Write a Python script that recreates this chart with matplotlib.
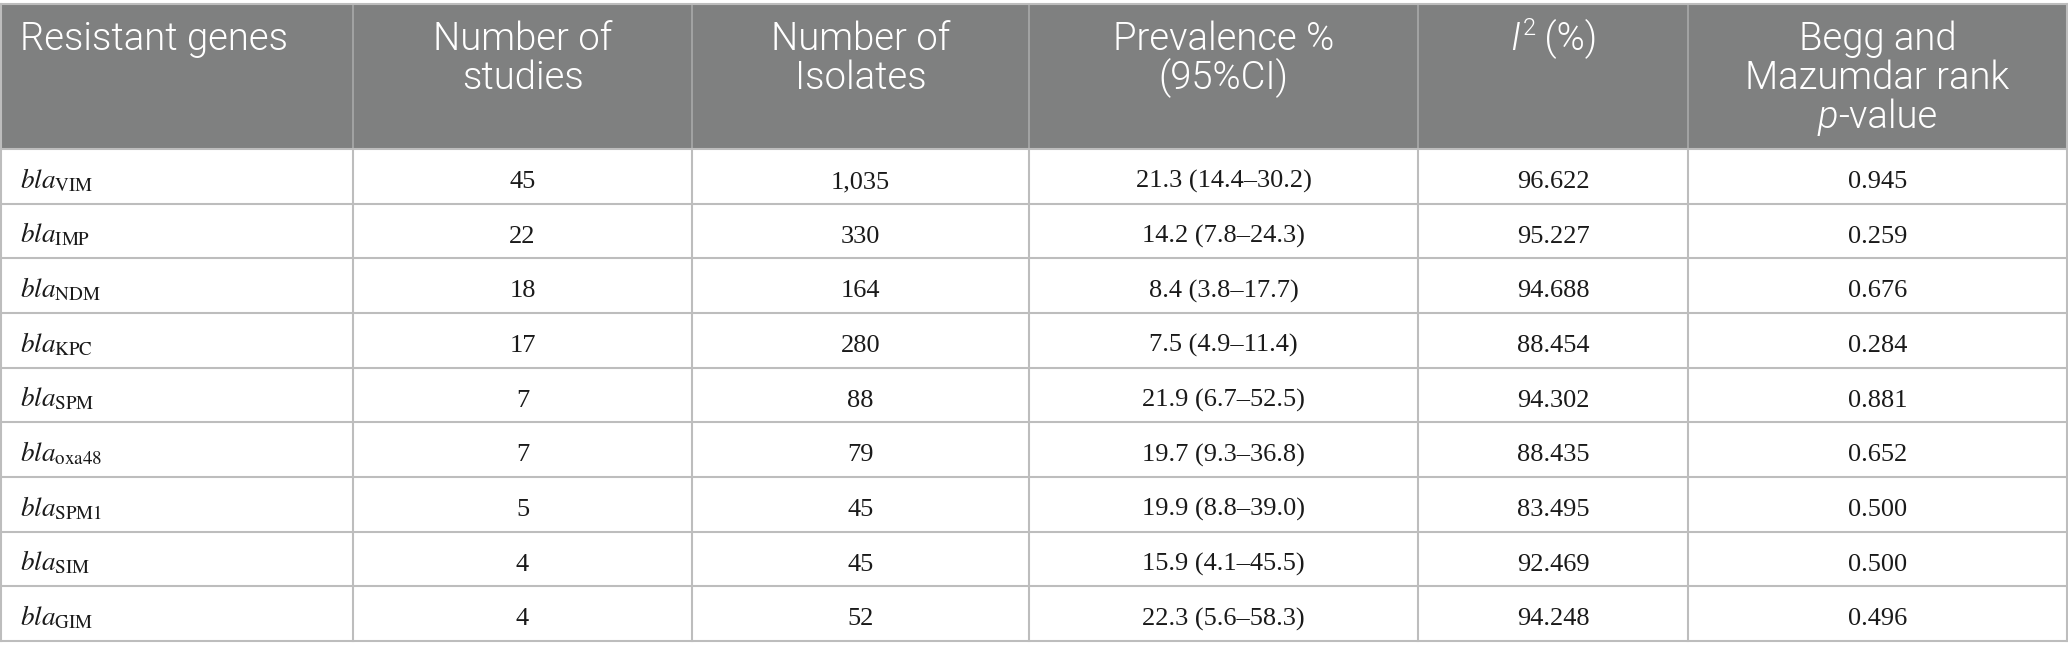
import matplotlib.pyplot as plt
from matplotlib.patches import Rectangle

# table data
genes = ['VIM', 'IMP', 'NDM', 'KPC', 'SPM', 'oxa48', 'SPM1', 'SIM', 'GIM']
n_studies = [45, 22, 18, 17, 7, 7, 5, 4, 4]
n_isolates = ['1,035', '330', '164', '280', '88', '79', '45', '45', '52']
prevalence = ['21.3 (14.4–30.2)', '14.2 (7.8–24.3)', '8.4 (3.8–17.7)', '7.5 (4.9–11.4)',
              '21.9 (6.7–52.5)', '19.7 (9.3–36.8)', '19.9 (8.8–39.0)', '15.9 (4.1–45.5)',
              '22.3 (5.6–58.3)']
i2 = ['96.622', '95.227', '94.688', '88.454', '94.302', '88.435', '83.495', '92.469', '94.248']
begg = ['0.945', '0.259', '0.676', '0.284', '0.881', '0.652', '0.500', '0.500', '0.496']

# header lines; each line is a list of (text, style, superscript?)
headers = [
    [[('Resistant genes', 'normal', False)]],
    [[('Number of', 'normal', False)], [('studies', 'normal', False)]],
    [[('Number of', 'normal', False)], [('Isolates', 'normal', False)]],
    [[('Prevalence %', 'normal', False)], [('(95%CI)', 'normal', False)]],
    [[('I', 'italic', False), ('2', 'normal', True), (' (%)', 'normal', False)]],
    [[('Begg and', 'normal', False)], [('Mazumdar rank', 'normal', False)],
     [('p', 'italic', False), ('-value', 'normal', False)]],
]

W, H = 2068, 659
fig = plt.figure(figsize=(W / 100, H / 100), dpi=100)
ax = fig.add_axes([0, 0, 1, 1])
ax.set_xlim(0, W)
ax.set_ylim(H, 0)
ax.axis('off')
renderer = fig.canvas.get_renderer()

col_x = [1, 353, 692, 1029, 1418, 1688, 2067]
top, head_bot, bottom = 4, 149, 641
row_h = (bottom - head_bot) / len(genes)
grid_c = '#bdbdbd'
hfs = 27.5
hfont = 'Roboto'


def put_pieces(x, y, pieces, align):
    # draw pieces side by side, measure first so the line can be centred
    arts = []
    for s, st, sup in pieces:
        fs = hfs * 0.62 if sup else hfs
        t = ax.text(0, y - (hfs * 0.55 if sup else 0), s, ha='left', va='baseline',
                    color='white', fontsize=fs, family=hfont, style=st,
                    fontweight=300)
        arts.append(t)
    widths = [a.get_window_extent(renderer).width for a in arts]
    total = sum(widths)
    x0 = x - total / 2 if align == 'center' else x
    for a, w in zip(arts, widths):
        a.set_x(x0)
        x0 += w + (2 if a.get_text() == 'I' else 0)


# header band
ax.add_patch(Rectangle((col_x[0], top), col_x[-1] - col_x[0], head_bot - top,
                       facecolor='#7f8080', edgecolor='none'))
for x in col_x[1:-1]:
    ax.plot([x, x], [top, head_bot], color='#a9a9a9', lw=1.2)

for j, lines in enumerate(headers):
    for k, pieces in enumerate(lines):
        y = 50 + k * 39
        if j == 0:
            put_pieces(20, y, pieces, 'left')
        else:
            put_pieces((col_x[j] + col_x[j + 1]) / 2, y, pieces, 'center')

# grid
ax.plot([col_x[0], col_x[-1]], [top, top], color=grid_c, lw=1.5)
for i in range(len(genes) + 1):
    y = head_bot + i * row_h
    ax.plot([col_x[0], col_x[-1]], [y, y], color=grid_c, lw=1.5)
for x in col_x:
    ax.plot([x, x], [head_bot, bottom], color=grid_c, lw=1.5)
for x in (col_x[0], col_x[-1]):
    ax.plot([x, x], [top, head_bot], color=grid_c, lw=1.5)

# body
txt_c = '#1a1a1a'
for i, g in enumerate(genes):
    yb = head_bot + i * row_h + 39
    ax.text(20, yb, r'$\mathit{bla}_{\mathrm{' + g + '}}$', ha='left', va='baseline',
            color=txt_c, fontsize=19.5, math_fontfamily='stix')
    vals = [str(n_studies[i]), n_isolates[i], prevalence[i], i2[i], begg[i]]
    for j, v in enumerate(vals, start=1):
        ax.text((col_x[j] + col_x[j + 1]) / 2, yb, v, ha='center', va='baseline',
                color=txt_c, fontsize=19, family='Liberation Serif')

fig.savefig('out.png', dpi=100, facecolor='white')
